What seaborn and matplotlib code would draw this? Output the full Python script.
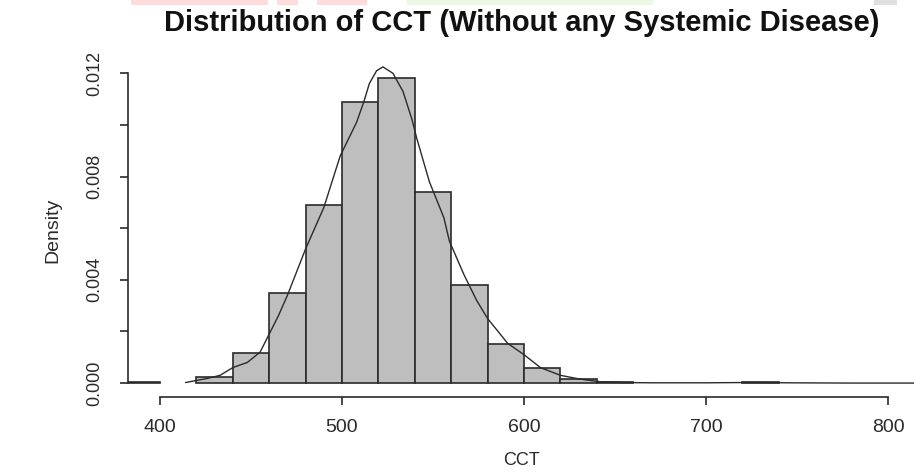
import numpy as np
import pandas as pd
import matplotlib
matplotlib.use('Agg')
import matplotlib.pyplot as plt
import seaborn as sns
from matplotlib.patches import Rectangle
from matplotlib.ticker import FixedLocator, FixedFormatter

# histogram bins (CCT, width 20) and density heights
bin_left = [380, 400, 420, 440, 460, 480, 500, 520, 540, 560, 580, 600, 620, 640,
            660, 680, 700, 720]
bin_density = [0.00005, 0.0, 0.00025, 0.00115, 0.0035, 0.0069, 0.0109, 0.0118,
               0.0074, 0.0038, 0.0015, 0.0006, 0.00015, 0.00004,
               0.0, 0.0, 0.0, 0.00005]
bin_width = 20

# kernel density curve drawn over the bars
kde_x = [414, 420, 426, 433, 440, 448, 455, 460, 465, 470, 475, 480, 490, 499, 508,
         512, 515, 519, 522.5, 528, 533.5, 538.5, 541, 548, 556, 559, 567, 574, 580,
         591, 600, 609, 620, 631, 642, 655, 670, 700, 720, 730, 745, 780, 816]
kde_y = [0.00002, 0.0001, 0.00018, 0.0003, 0.0006, 0.0008, 0.0012, 0.0019, 0.0026,
         0.0034, 0.0043, 0.0052, 0.0068, 0.0088, 0.0101, 0.0109, 0.0116, 0.0121,
         0.01225, 0.0120, 0.0113, 0.0102, 0.0095, 0.0078, 0.0064, 0.0055, 0.0042,
         0.0032, 0.0025, 0.00154, 0.0011, 0.0006, 0.0003, 0.00015, 0.00005,
         0.00002, 0.00001, 0.00001, 0.00002, 0.00002, 0.00001, 0.0, 0.0]

x_ticks = [400, 500, 600, 700, 800]
y_ticks = [0.000, 0.002, 0.004, 0.006, 0.008, 0.010, 0.012]
y_labels = ["0.000", "", "0.004", "", "0.008", "", "0.012"]

sns.set_style("white")
plt.rcParams['font.family'] = ['Liberation Sans', 'DejaVu Sans']

W, H = 914, 476
fig = plt.figure(figsize=(W / 100, H / 100), dpi=100)

# faint watermark strips along the top edge
for x0, x1, col in [(131, 268, '#fcdcdc'), (277, 298, '#fcdcdc'), (317, 367, '#fcdcdc'),
                    (407, 653, '#edf7e5'), (874, 897, '#e0e0e0')]:
    fig.patches.append(Rectangle((x0 / W, 1 - 5 / H), (x1 - x0) / W, 5 / H,
                                 transform=fig.transFigure, color=col, lw=0))

left, right, top, bottom = 128, 914, 63, 397
ax = fig.add_axes([left / W, 1 - bottom / H, (right - left) / W, (bottom - top) / H])

edges = bin_left + [bin_left[-1] + bin_width]
centers = [b + bin_width / 2 for b in bin_left]
df = pd.DataFrame({"CCT": centers, "w": bin_density})
sns.histplot(data=df, x="CCT", weights="w", bins=edges, stat="count",
             color="#bebebe", edgecolor="#2a2a2a", linewidth=1.2, alpha=1, ax=ax)
# R only leaves lines for non-empty bins here
for p in list(ax.patches):
    if p.get_height() == 0:
        p.remove()

sns.lineplot(x=kde_x, y=kde_y, color="#2a2a2a", linewidth=1.0, ax=ax, sort=False)

ax.set_xlim(382.4, 814.3)
ax.set_ylim(-0.00054, 0.0124)

for s in ["top", "right"]:
    ax.spines[s].set_visible(False)
ax.spines["left"].set_bounds(0, 0.012)
ax.spines["bottom"].set_bounds(400, 800)
for s in ["left", "bottom"]:
    ax.spines[s].set_color("#2a2a2a")
    ax.spines[s].set_linewidth(1.2)

ax.xaxis.set_major_locator(FixedLocator(x_ticks))
ax.set_xticklabels([str(t) for t in x_ticks])
ax.yaxis.set_major_locator(FixedLocator(y_ticks))
ax.yaxis.set_major_formatter(FixedFormatter(y_labels))
ax.tick_params(axis="both", direction="out", length=5.5, width=1.2, color="#2a2a2a",
               labelcolor="#2a2a2a", bottom=True, left=True)
ax.tick_params(axis="x", labelsize=14, pad=10)
ax.tick_params(axis="y", labelsize=13, pad=12)
plt.setp(ax.get_yticklabels(), rotation=90, va="center")

ax.set_xlabel("CCT", fontsize=13, color="#2a2a2a", labelpad=12)
ax.set_ylabel("Density", fontsize=14, color="#2a2a2a", labelpad=18)

fig.text(522 / W, 1 - 23 / H, "Distribution of CCT (Without any Systemic Disease)",
         ha="center", va="center", fontsize=21, fontweight="bold", color="#111111")

fig.savefig("out.png", dpi=100)
plt.close(fig)
